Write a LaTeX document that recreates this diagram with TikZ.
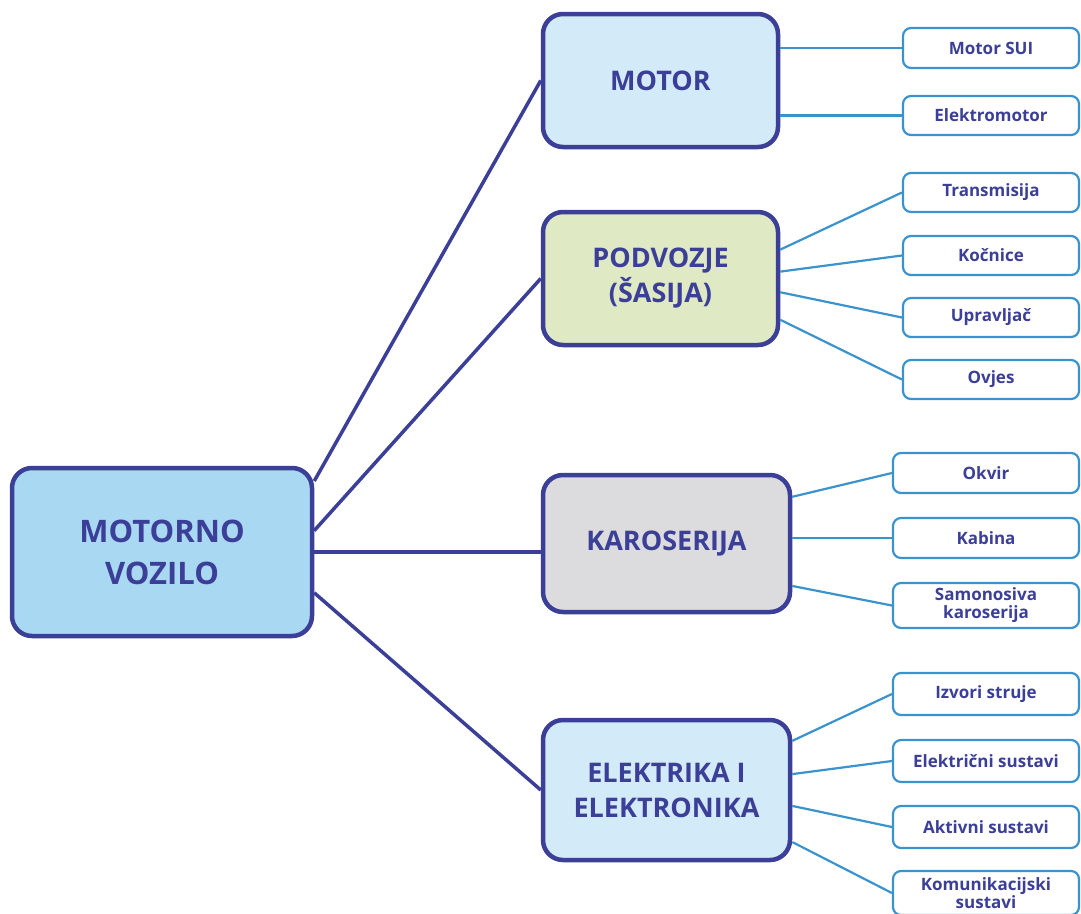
\documentclass[tikz,border=0pt]{standalone}
\usepackage{fontspec}
\setmainfont{Open Sans}
\usetikzlibrary{calc}
\definecolor{navy}{HTML}{3B3F98}
\definecolor{skyb}{HTML}{3A93CC}
\definecolor{mainfill}{HTML}{A9D8F2}
\definecolor{lightb}{HTML}{D3EAF8}
\definecolor{lightg}{HTML}{DFE9C3}
\definecolor{lgray}{HTML}{DCDCDE}
\tikzset{
  bigbox/.style={draw=navy, line width=4.5pt, rounded corners=20pt, align=center, text=navy, font=\bfseries\fontsize{27}{35}\selectfont, inner sep=0pt},
  leafbox/.style={draw=skyb, line width=2.2pt, fill=white, rounded corners=8pt, align=center, text=navy, font=\bfseries\fontsize{17}{18}\selectfont, inner sep=0pt},
  bigline/.style={draw=navy, line width=3.5pt},
  leafline/.style={draw=skyb, line width=2.2pt},
}
\begin{document}
\begin{tikzpicture}[x=1pt,y=-1pt]
\useasboundingbox (0,0) rectangle (1081,913);
% main nodes
\node[bigbox, fill=mainfill, minimum width=300pt, minimum height=168pt, font=\bfseries\fontsize{31}{42}\selectfont] (main) at (162,552) {MOTORNO\\VOZILO};
\node[bigbox, fill=lightb, minimum width=235pt, minimum height=133pt] (mot) at (660.5,80.5) {MOTOR};
\node[bigbox, fill=lightg, minimum width=235pt, minimum height=133pt] (pod) at (660.5,278.5) {PODVOZJE\\(ŠASIJA)};
\node[bigbox, fill=lgray, minimum width=247pt, minimum height=137pt] (kar) at (666.5,543.5) {KAROSERIJA};
\node[bigbox, fill=lightb, minimum width=247pt, minimum height=140pt] (ele) at (666.5,790) {ELEKTRIKA I\\ELEKTRONIKA};
% leaves
\node[leafbox, minimum width=176pt, minimum height=40pt] (sui) at (991,48) {Motor SUI};
\node[leafbox, minimum width=176pt, minimum height=39pt] (elm) at (991,115.5) {Elektromotor};
\node[leafbox, minimum width=176pt, minimum height=39pt] (tra) at (991,192.5) {Transmisija};
\node[leafbox, minimum width=176pt, minimum height=39pt] (koc) at (991,255.5) {Kočnice};
\node[leafbox, minimum width=176pt, minimum height=39pt] (upr) at (991,317.5) {Upravljač};
\node[leafbox, minimum width=176pt, minimum height=39pt] (ovj) at (991,379.5) {Ovjes};
\node[leafbox, minimum width=186pt, minimum height=40pt] (okv) at (986,473) {Okvir};
\node[leafbox, minimum width=186pt, minimum height=40pt] (kab) at (986,538) {Kabina};
\node[leafbox, minimum width=186pt, minimum height=45pt] (sam) at (986,605.5) {Samonosiva\\karoserija};
\node[leafbox, minimum width=186pt, minimum height=42pt] (izv) at (986,694) {Izvori struje};
\node[leafbox, minimum width=186pt, minimum height=42pt] (elc) at (986,761) {Električni sustavi};
\node[leafbox, minimum width=186pt, minimum height=42pt] (akt) at (986,827) {Aktivni sustavi};
\node[leafbox, minimum width=186pt, minimum height=44pt] (kom) at (986,893) {Komunikacijski\\sustavi};
% main connectors
\draw[bigline] (main.25) -- (mot.west);
\draw[bigline] (main.8) -- (pod.west);
\draw[bigline] (main.east) -- (main.east -| kar.west);
\draw[bigline] (main.-15) -- (ele.west);
% leaf connectors
\draw[leafline] (sui.west -| mot.east) -- (sui.west);
\draw[leafline] (elm.west -| mot.east) -- (elm.west);
\draw[leafline] ($(pod.north east)!0.29!(pod.south east)$) -- (tra.west);
\draw[leafline] ($(pod.north east)!0.45!(pod.south east)$) -- (koc.west);
\draw[leafline] ($(pod.north east)!0.60!(pod.south east)$) -- (upr.west);
\draw[leafline] ($(pod.north east)!0.80!(pod.south east)$) -- (ovj.west);
\draw[leafline] ($(kar.north east)!0.17!(kar.south east)$) -- (okv.west);
\draw[leafline] (kab.west -| kar.east) -- (kab.west);
\draw[leafline] ($(kar.north east)!0.80!(kar.south east)$) -- (sam.west);
\draw[leafline] ($(ele.north east)!0.16!(ele.south east)$) -- (izv.west);
\draw[leafline] ($(ele.north east)!0.39!(ele.south east)$) -- (elc.west);
\draw[leafline] ($(ele.north east)!0.61!(ele.south east)$) -- (akt.west);
\draw[leafline] ($(ele.north east)!0.86!(ele.south east)$) -- (kom.west);
\end{tikzpicture}
\end{document}
